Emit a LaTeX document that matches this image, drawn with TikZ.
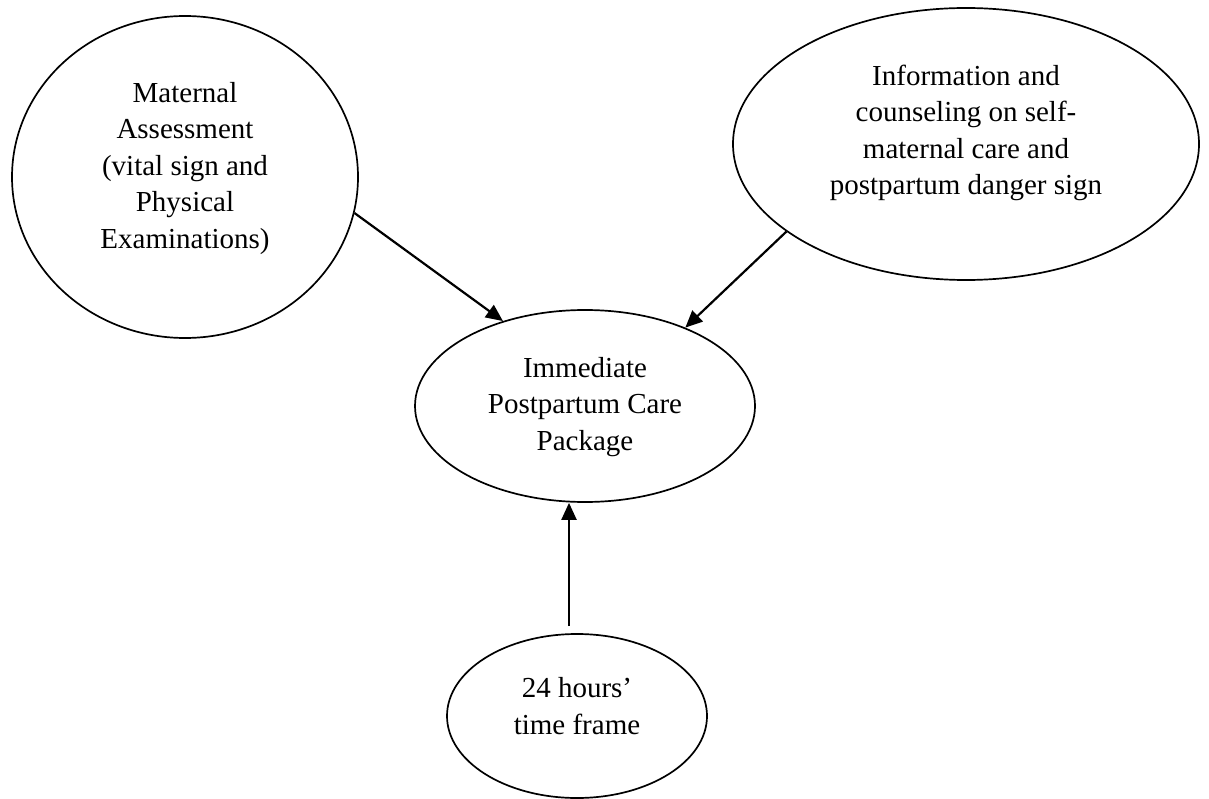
\documentclass[tikz,border=0pt]{standalone}
\usepackage{fontspec}
\setmainfont{Liberation Serif}
\usetikzlibrary{shapes.geometric,arrows.meta}
\begin{document}
\begin{tikzpicture}[x=1pt,y=-1pt,
  bubble/.style={ellipse,draw,line width=1.7pt,inner sep=0pt},
  txt/.style={align=center,font=\fontsize{29}{36.5}\selectfont,inner sep=0pt},
  arr/.style={line width=2.2pt,-{Triangle[length=17pt,width=15pt]}}]
\useasboundingbox (0,0) rectangle (1209,799);
\node[bubble,minimum width=346pt,minimum height=322pt,
  label={[txt,yshift=8.5pt]center:{Maternal\\Assessment\\(vital sign and\\Physical\\Examinations)}}] (ma) at (185,177) {};
\node[bubble,minimum width=466pt,minimum height=272pt,
  label={[txt,yshift=11pt]center:{Information and\\counseling on self-\\maternal care and\\postpartum danger sign}}] (info) at (966,144) {};
\node[bubble,minimum width=340pt,minimum height=192pt,
  label={[txt,yshift=-1pt]center:{Immediate\\Postpartum Care\\Package}}] (ip) at (585,406) {};
\node[bubble,minimum width=260pt,minimum height=164pt,
  label={[txt,yshift=10pt]center:{24 hours’\\time frame}}] (tf) at (577,716) {};
\draw[arr] (ma.-12.6) -- (ip.134.3);
\draw[arr] (info.206.3) -- (ip.38.3);
\draw[arr] ([shift={(-8pt,7pt)}]tf.north) -- ([xshift=-16pt]ip.south);
\end{tikzpicture}
\end{document}
